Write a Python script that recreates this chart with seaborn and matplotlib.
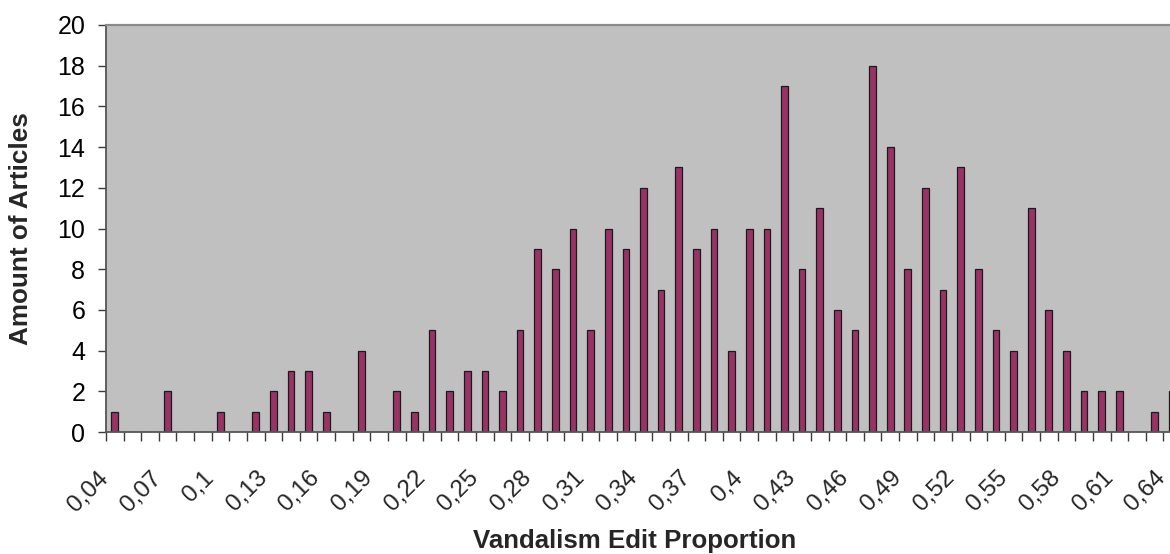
import matplotlib
matplotlib.use("Agg")
import matplotlib.pyplot as plt
import matplotlib.transforms as mtransforms
import seaborn as sns
import pandas as pd

# Share of vandalism edits per article, binned at 0.01 steps
proportions = [round(0.04 + 0.01 * i, 2) for i in range(61)]
article_counts = [
    1, 0, 0, 2, 0, 0, 1, 0, 1, 2,
    3, 3, 1, 0, 4, 0, 2, 1, 5, 2,
    3, 3, 2, 5, 9, 8, 10, 5, 10, 9,
    12, 7, 13, 9, 10, 4, 10, 10, 17, 8,
    11, 6, 5, 18, 14, 8, 12, 7, 13, 8,
    5, 4, 11, 6, 4, 2, 2, 2, 0, 1,
    2,
]
y_ticks = list(range(0, 21, 2))


def comma_label(v):
    s = f"{v:.2f}".rstrip("0").rstrip(".")
    return s.replace(".", ",")


categories = [comma_label(p) for p in proportions]
df = pd.DataFrame({"proportion": categories, "articles": article_counts})

sns.set_style("white")
plt.rcParams["font.family"] = ["Liberation Sans", "DejaVu Sans"]

W, H = 1170, 554
fig = plt.figure(figsize=(W / 100, H / 100), dpi=100)
left_px, right_px, top_px, bottom_px = 106, 1181, 25, 432
ax = fig.add_axes([left_px / W, 1 - bottom_px / H,
                   (right_px - left_px) / W, (bottom_px - top_px) / H])
ax.set_facecolor("#C0C0C0")

sns.barplot(data=df, x="proportion", y="articles", order=categories,
            color="#993366", saturation=1, width=0.38,
            edgecolor="#1a1a1a", linewidth=0.9, ax=ax)

ax.set_xlim(-0.5, len(categories) - 0.5)
ax.set_ylim(0, 20)
ax.set_yticks(y_ticks)
ax.set_yticklabels([str(t) for t in y_ticks], fontsize=18)

# category labels every third bin, tick marks between bins
major = list(range(0, len(categories), 3))
ax.set_xticks(major)
ax.set_xticklabels([categories[i] for i in major], fontsize=17.5,
                   rotation=45, ha="right", va="baseline",
                   rotation_mode="anchor")
ax.set_xticks([i - 0.5 for i in range(len(categories) + 1)], minor=True)
ax.tick_params(axis="x", which="major", length=0, pad=33.8)
ax.tick_params(axis="x", which="minor", length=6.5, width=1.0,
               color="#3a3a3a", direction="out")
ax.tick_params(axis="y", length=6, width=1.0, color="#3a3a3a",
               direction="out", pad=9, labelcolor="black")
ax.xaxis.set_ticks_position("bottom")
ax.yaxis.set_ticks_position("left")

shift = mtransforms.ScaledTranslation(-5.5 / 100, 0, fig.dpi_scale_trans)
for lbl in ax.get_xticklabels():
    lbl.set_transform(lbl.get_transform() + shift)

for side in ["left", "bottom"]:
    ax.spines[side].set_color("#555555")
    ax.spines[side].set_linewidth(1.3)
ax.spines["top"].set_color("#8a8a8a")
ax.spines["top"].set_linewidth(1.6)
ax.spines["right"].set_visible(False)

ax.set_ylabel("Amount of Articles", fontsize=18.8, fontweight="bold")
ax.set_xlabel("Vandalism Edit Proportion", fontsize=18.6, fontweight="bold")
ax.yaxis.set_label_coords((33 - left_px) / (right_px - left_px), 0.5)
ax.xaxis.set_label_coords((635 - left_px) / (right_px - left_px),
                          (bottom_px - 529) / (bottom_px - top_px))

fig.savefig("out.png", dpi=100, facecolor="white")
